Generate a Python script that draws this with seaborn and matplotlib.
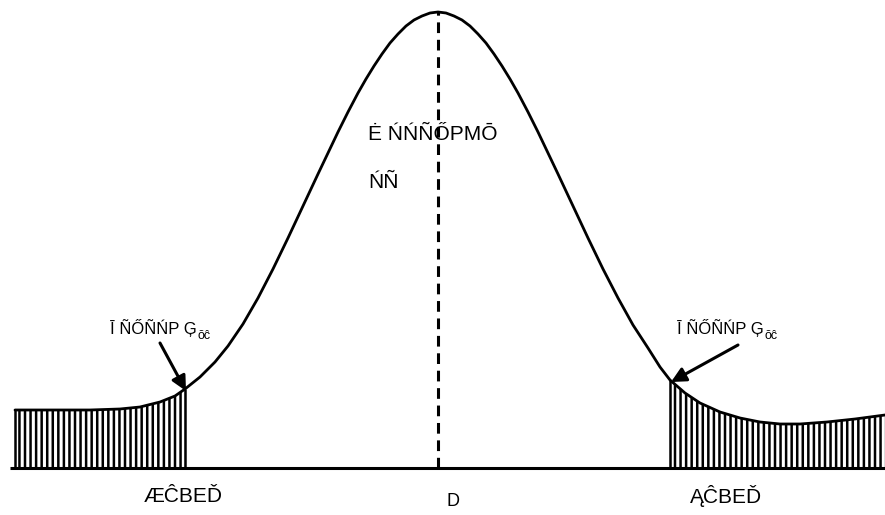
import numpy as np
import pandas as pd
import matplotlib
matplotlib.use("Agg")
import matplotlib.pyplot as plt
import seaborn as sns
from matplotlib import font_manager

# ---- data (height above the baseline) ----
curve_x = [15, 50, 90, 120, 140, 160, 175, 185, 200, 215, 228, 243, 258, 273, 288,
           303, 318, 328, 338, 348, 358, 366, 374, 382, 390, 398, 406, 414, 422, 430,
           438, 446, 454, 462, 470, 478, 486, 494, 502, 510, 518, 528, 538, 548, 558,
           573, 588, 603, 618, 633, 648, 660, 670, 685, 700, 720, 740, 760, 780, 800,
           827, 855, 885]
curve_h = [58, 58, 58, 59, 61, 66, 72, 79, 91, 106, 122, 144, 170, 199, 230,
           262, 294, 315, 336, 356, 375, 389, 402, 414, 425, 434, 442, 448, 452, 455,
           456, 455, 452, 448, 442, 434, 425, 414, 402, 389, 375, 356, 336, 315, 294,
           262, 230, 199, 170, 143, 120, 101, 88, 75, 65, 56, 50, 46, 44, 44,
           46, 49, 53]
mean_x = 438
left_cut = 185
right_cut = 670

top_label = ["Ė ŃŃÑŐPMŌ", "ŃÑ"]
side_label = "Ī ÑŐÑŃP Ģ"
side_sub = "ŏĉ"
left_tick = "ÆĈBEĎ"
mid_tick = "D"
right_tick = "ĄĈBEĎ"

df = pd.DataFrame({"x": curve_x, "h": curve_h})

sns.set_theme(style="white")
names = {f.name for f in font_manager.fontManager.ttflist}
fam = "Liberation Sans Narrow" if "Liberation Sans Narrow" in names else "Liberation Sans"
plt.rcParams["font.family"] = [fam, "DejaVu Sans"]
plt.rcParams["text.color"] = "black"
plt.rcParams["hatch.linewidth"] = 1.8
plt.rcParams["hatch.color"] = "black"

fig = plt.figure(figsize=(8.85, 5.15), dpi=100)
ax = fig.add_axes([0, 0, 1, 1])
ax.set_xlim(0, 885)
ax.set_ylim(-47, 468)
ax.axis("off")

xs = np.array(curve_x)
hs = np.array(curve_h)

# hatched tails
ax.fill_between(xs, 0, hs, where=xs <= left_cut, facecolor="none", hatch="|||",
                edgecolor="black", linewidth=0)
ax.fill_between(xs, 0, hs, where=xs >= right_cut, facecolor="none", hatch="|||",
                edgecolor="black", linewidth=0)
h_left = hs[xs == left_cut][0]
h_right = hs[xs == right_cut][0]
ax.vlines([curve_x[0], left_cut, right_cut], 0, [curve_h[0], h_left, h_right],
          color="black", lw=1.8)

# curve
sns.lineplot(data=df, x="x", y="h", ax=ax, color="black", lw=2.0, sort=False)
for ln in ax.lines:
    ln.set_solid_joinstyle("round")

# baseline and mean line
ax.hlines(0, 10, 885, color="black", lw=2.2)
ax.vlines(mean_x, 0, max(curve_h), color="black", lw=2.2, linestyles=(0, (3.5, 2.2)))

# texts
ax.text(368, 333, top_label[0], fontsize=15, va="center", ha="left")
ax.text(368, 286, top_label[1], fontsize=15, va="center", ha="left")

fig.canvas.draw()
renderer = fig.canvas.get_renderer()
for x0 in (110, 677):
    t = ax.text(x0, 140, side_label, fontsize=12, va="center", ha="left")
    bb = t.get_window_extent(renderer=renderer)
    x_end = ax.transData.inverted().transform((bb.x1, bb.y0))[0]
    ax.text(x_end + 1, 132, side_sub, fontsize=9, va="center", ha="left")

ax.annotate("", xy=(left_cut + 1, h_left - 2), xytext=(160, 125),
            arrowprops=dict(arrowstyle="-|>", lw=2.2, mutation_scale=22, color="black",
                            shrinkA=0, shrinkB=0))
ax.annotate("", xy=(right_cut + 1, h_right - 2), xytext=(738, 123),
            arrowprops=dict(arrowstyle="-|>", lw=2.2, mutation_scale=22, color="black",
                            shrinkA=0, shrinkB=0))

ax.text(183, -28, left_tick, fontsize=15, va="center", ha="center")
ax.text(453, -33, mid_tick, fontsize=13, va="center", ha="center")
ax.text(726, -28, right_tick, fontsize=15, va="center", ha="center")

fig.savefig("out.png", dpi=100)
